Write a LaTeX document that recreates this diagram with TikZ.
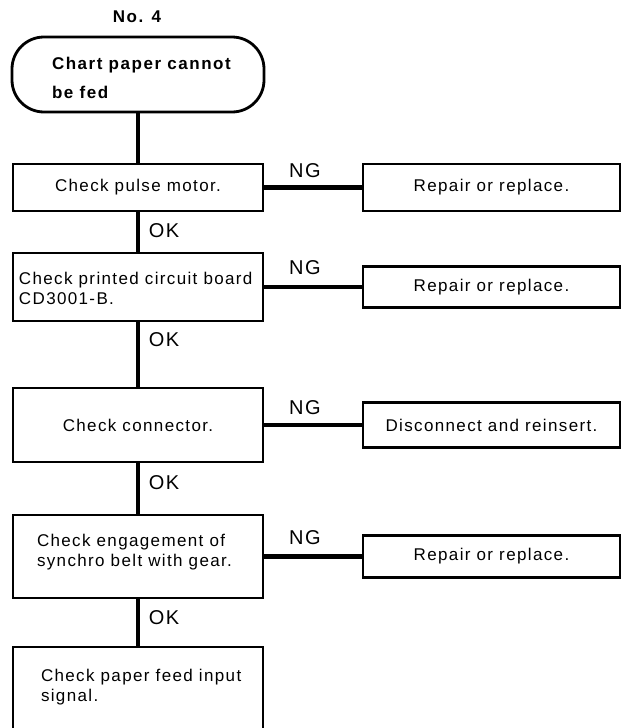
\documentclass[tikz,border=0pt]{standalone}
\usepackage{fontspec}
\setmainfont{Liberation Sans}[LetterSpace=8]
\begin{document}
\begin{tikzpicture}[x=1pt, y=-1pt,
  every node/.style={inner sep=0pt, outer sep=0pt},
  frame/.style={draw, line width=2.8pt, minimum width=250pt, inner sep=0pt},
  endbox/.style={frame, minimum width=257pt},
  txt/.style={font=\fontsize{17}{20}\selectfont, align=left},
  boldtxt/.style={font=\fontsize{17}{29}\selectfont\bfseries\addfontfeature{LetterSpace=9}, align=left},
  tag/.style={font=\fontsize{20}{24}\selectfont},
  wire/.style={line width=4.8pt}
]
\useasboundingbox (0,0) rectangle (629,728);
\fill[white] (0,0) rectangle (629,728);
\clip (0,0) rectangle (629,728);

% heading
\node[boldtxt] (title) at (137,17) {No. 4};

% start terminal
\node[frame, rounded corners=32pt, minimum width=252pt, minimum height=75pt] (start) at (138,74.5) {};
\node[boldtxt, anchor=west] (starttxt) at (52,77.5) {Chart paper cannot\\be fed};

% checking steps (left column)
\node[frame, minimum height=47pt] (b1) at (138,187.5) {};
\node[txt] (t1) at (b1) {Check pulse motor.};

\node[frame, minimum height=68pt] (b2) at (138,287) {};
\node[txt, anchor=west] (t2) at (19,288) {Check printed circuit board\\CD3001-B.};

\node[frame, minimum height=74pt] (b3) at (138,425) {};
\node[txt] (t3) at (b3) {Check connector.};

\node[frame, minimum height=83pt] (b4) at (138,556.5) {};
\node[txt, anchor=west] (t4) at (37,552.5) {Check engagement of\\synchro belt with gear.};

\node[frame, minimum height=110pt] (b5) at (138,702) {};
\node[txt, anchor=west] (t5) at (41,687) {Check paper feed input\\signal.};

% remedies (right column)
\node[endbox, minimum height=47pt] (r1) at (491.5,187.5) {};
\node[txt] (rt1) at (r1) {Repair or replace.};

\node[endbox, minimum height=41pt] (r2) at (491.5,287) {};
\node[txt] (rt2) at (r2) {Repair or replace.};

\node[endbox, minimum height=45pt] (r3) at (491.5,425) {};
\node[txt] (rt3) at (r3) {Disconnect and reinsert.};

\node[endbox, minimum height=42pt] (r4) at (491.5,556.5) {};
\node[txt] (rt4) at (r4) {Repair or replace.};

% main flow
\draw[wire] (start.south) -- (b1.north);
\draw[wire] (b1.south) -- (b2.north);
\draw[wire] (b2.south) -- (b3.north);
\draw[wire] (b3.south) -- (b4.north);
\draw[wire] (b4.south) -- (b5.north);

% branches
\draw[wire] (b1.east) -- (r1.west);
\draw[wire] (b2.east) -- (r2.west);
\draw[wire] (b3.east) -- (r3.west);
\draw[wire] (b4.east) -- (r4.west);

% branch labels
\node[tag] (ng1) at (305,171) {NG};
\node[tag] (ng2) at (305,268) {NG};
\node[tag] (ng3) at (305,408) {NG};
\node[tag] (ng4) at (305,538) {NG};

\node[tag] (ok1) at (164,231) {OK};
\node[tag] (ok2) at (164,340) {OK};
\node[tag] (ok3) at (164,483) {OK};
\node[tag] (ok4) at (164,618) {OK};
\end{tikzpicture}
\end{document}
